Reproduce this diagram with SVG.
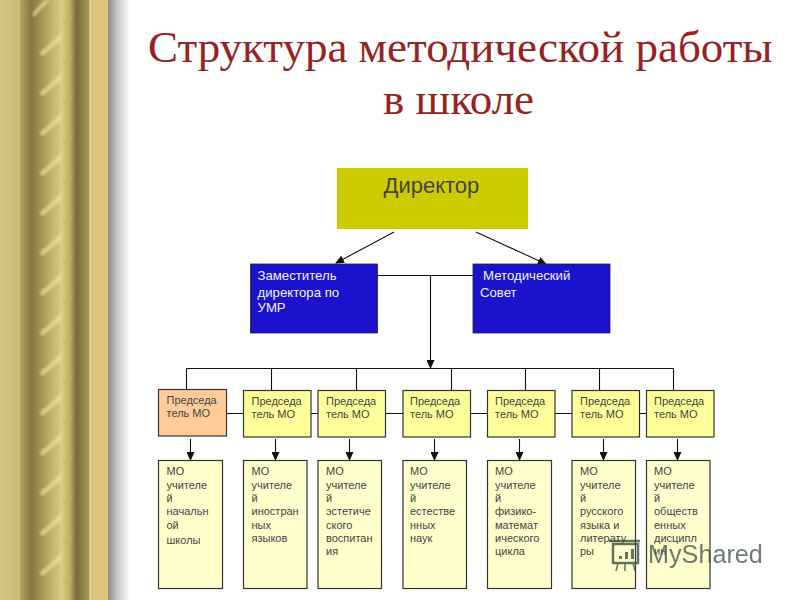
<svg xmlns="http://www.w3.org/2000/svg" width="800" height="600" viewBox="0 0 800 600">
<style>
.t{font-family:"Liberation Sans",Arial,sans-serif;fill:#444}
.s{font-size:11px}
.m{font-size:13.200px;fill:#f4f4ff}
.h{font-family:"Liberation Serif","Times New Roman",serif;font-size:45px;fill:#97221f}
.b{stroke:#333;stroke-width:1.2}
.y{fill:#ffff99}
.o{fill:#ffcc99}
.p{fill:#ffffcc}
.u{fill:#1a12cc;stroke:#223;stroke-width:.8}
.l{stroke:#111;stroke-width:1.1;fill:none}
.hi{fill:#ebdd98;opacity:.7}
.dk{fill:#c2b06c;opacity:.7}
</style>
<defs>
<linearGradient id="col" x1="0" x2="1" y1="0" y2="0">
<stop offset="0" stop-color="#d6c680"/>
<stop offset=".17" stop-color="#cbbb76"/>
<stop offset=".175" stop-color="#e6d890"/>
<stop offset=".185" stop-color="#b5a765"/>
<stop offset=".29" stop-color="#86783f"/>
<stop offset=".42" stop-color="#b0a15e"/>
<stop offset=".57" stop-color="#ddcd82"/>
<stop offset=".64" stop-color="#c0b16c"/>
<stop offset=".71" stop-color="#7a6c3c"/>
<stop offset=".82" stop-color="#a89a5a"/>
<stop offset=".835" stop-color="#e6d890"/>
<stop offset=".85" stop-color="#d8c47c"/>
<stop offset="1" stop-color="#dcc67c"/>
</linearGradient>
<linearGradient id="sh" x1="0" x2="1" y1="0" y2="0">
<stop offset="0" stop-color="#8a8a90"/>
<stop offset=".4" stop-color="#c4c4c8"/>
<stop offset="1" stop-color="#fff"/>
</linearGradient>
<filter id="bl" x="-5%" y="-5%" width="110%" height="110%"><feGaussianBlur stdDeviation=".8"/></filter>
<marker id="a" markerWidth="9" markerHeight="8" refX="8" refY="4" orient="auto" markerUnits="userSpaceOnUse"><path d="M0 0L9 4L0 8Z" fill="#111"/></marker>
<path id="sp" d="M39 53L63 32L61 40L43 56Z"/>
<path id="sd" d="M63 64L73 52L72 58L66 66Z"/>
</defs>
<rect width="800" height="600" fill="#fff"/>
<g id="border">
<rect x="108" width="22" height="600" fill="url(#sh)"/>
<rect width="108" height="600" fill="url(#col)"/>
<g class="hi" filter="url(#bl)">
<path d="M33 18L50 0H45L33 12Z"/>
<use href="#sp"/><use href="#sp" y="40"/><use href="#sp" y="80"/><use href="#sp" y="120"/><use href="#sp" y="160"/><use href="#sp" y="200"/><use href="#sp" y="240"/><use href="#sp" y="280"/><use href="#sp" y="320"/><use href="#sp" y="360"/><use href="#sp" y="400"/><use href="#sp" y="440"/><use href="#sp" y="480"/><use href="#sp" y="520"/>
</g>
<g class="dk" filter="url(#bl)">
<use href="#sd" y="-40"/><use href="#sd"/><use href="#sd" y="40"/><use href="#sd" y="80"/><use href="#sd" y="120"/><use href="#sd" y="160"/><use href="#sd" y="200"/><use href="#sd" y="240"/><use href="#sd" y="280"/><use href="#sd" y="320"/><use href="#sd" y="360"/><use href="#sd" y="400"/><use href="#sd" y="440"/><use href="#sd" y="480"/><use href="#sd" y="520"/>
</g>
</g>
<g id="title">
<text class="h" x="148" y="62">Структура методической работы</text>
<text class="h" x="383" y="114">в школе</text>
</g>
<g id="connectors">
<path class="l" d="M394 232L336 263" marker-end="url(#a)"/>
<path class="l" d="M476 232L546 264" marker-end="url(#a)"/>
<path class="l" d="M377 275.500H473"/>
<path class="l" d="M430.500 275.500V368" marker-end="url(#a)"/>
<path class="l" d="M186.500 368.500H673.500M186.500 368.500V390M271.500 368.500V391M356.500 368.500V391M451.500 368.500V391M525.500 368.500V391M599.500 368.500V391M673.500 368.500V391"/>
<path class="l" d="M222 413.500H243M311 413.500H318M385 413.500H403M470 413.500H487M552 413.500H572M635 413.500H646"/>
<path class="l" d="M190.500 439V460" marker-end="url(#a)"/>
<path class="l" d="M275.500 439V460" marker-end="url(#a)"/>
<path class="l" d="M349.500 439V460" marker-end="url(#a)"/>
<path class="l" d="M434.500 439V460" marker-end="url(#a)"/>
<path class="l" d="M519.500 439V460" marker-end="url(#a)"/>
<path class="l" d="M603.500 439V460" marker-end="url(#a)"/>
<path class="l" d="M677.500 439V460" marker-end="url(#a)"/>
</g>
<g id="director"><rect x="337" y="168" width="191" height="61" fill="#cccc00"/><text class="t" x="383.500" y="193" font-size="22">Директор</text></g>
<g id="deputy"><rect class="u" x="250.500" y="264" width="127" height="69"/><text class="t m" x="257.500" y="280">Заместитель</text><text class="t m" x="257.500" y="296.500">директора по</text><text class="t m" x="257.500" y="312">УМР</text></g>
<g id="council"><rect class="u" x="473" y="264" width="137" height="69"/><text class="t m" x="483" y="280">Методический</text><text class="t m" x="480" y="296.500">Совет</text></g>
<g id="chair1"><rect class="b o" x="158.500" y="389.500" width="68" height="46.500"/><text class="t s" x="166.500" y="404">Председа</text><text class="t s" x="166.500" y="417">тель МО</text></g>
<g id="chair2"><rect class="b y" x="243.500" y="390.500" width="67.500" height="46.500"/><text class="t s" x="251.500" y="405">Председа</text><text class="t s" x="251.500" y="418">тель МО</text></g>
<g id="chair3"><rect class="b y" x="318" y="390.500" width="67.500" height="46.500"/><text class="t s" x="326" y="405">Председа</text><text class="t s" x="326" y="418">тель МО</text></g>
<g id="chair4"><rect class="b y" x="403" y="390.500" width="67.500" height="46.500"/><text class="t s" x="410" y="405">Председа</text><text class="t s" x="410" y="418">тель МО</text></g>
<g id="chair5"><rect class="b y" x="487.500" y="390.500" width="67.500" height="46.500"/><text class="t s" x="495" y="405">Председа</text><text class="t s" x="495" y="418">тель МО</text></g>
<g id="chair6"><rect class="b y" x="572" y="390.500" width="67.500" height="46.500"/><text class="t s" x="580" y="405">Председа</text><text class="t s" x="580" y="418">тель МО</text></g>
<g id="chair7"><rect class="b y" x="646.500" y="390.500" width="67.500" height="46.500"/><text class="t s" x="654" y="405">Председа</text><text class="t s" x="654" y="418">тель МО</text></g>
<g id="mo1"><rect class="b p" x="158.500" y="460.500" width="64" height="128"/><text class="t s"><tspan x="166.500" y="475">МО</tspan><tspan x="166.500" y="488.500">учителе</tspan><tspan x="166.500" y="502">й</tspan><tspan x="166.500" y="515">начальн</tspan><tspan x="166.500" y="529">ой</tspan><tspan x="166.500" y="544">школы</tspan></text></g>
<g id="mo2"><rect class="b p" x="243.500" y="460.500" width="63.500" height="128"/><text class="t s"><tspan x="251.500" y="475">МО</tspan><tspan x="251.500" y="488.500">учителе</tspan><tspan x="251.500" y="502">й</tspan><tspan x="251.500" y="515">иностран</tspan><tspan x="251.500" y="529">ных</tspan><tspan x="251.500" y="542">языков</tspan></text></g>
<g id="mo3"><rect class="b p" x="318" y="460.500" width="63.500" height="128"/><text class="t s"><tspan x="326" y="475">МО</tspan><tspan x="326" y="488.500">учителе</tspan><tspan x="326" y="502">й</tspan><tspan x="326" y="515">эстетиче</tspan><tspan x="326" y="529">ского</tspan><tspan x="326" y="542">воспитан</tspan><tspan x="326" y="555">ия</tspan></text></g>
<g id="mo4"><rect class="b p" x="403" y="460.500" width="63.500" height="128"/><text class="t s"><tspan x="410" y="475">МО</tspan><tspan x="410" y="488.500">учителе</tspan><tspan x="410" y="502">й</tspan><tspan x="410" y="515">естестве</tspan><tspan x="410" y="529">нных</tspan><tspan x="410" y="542">наук</tspan></text></g>
<g id="mo5"><rect class="b p" x="487.500" y="460.500" width="64" height="128"/><text class="t s"><tspan x="495" y="475">МО</tspan><tspan x="495" y="488.500">учителе</tspan><tspan x="495" y="502">й</tspan><tspan x="495" y="515">физико-</tspan><tspan x="495" y="529">математ</tspan><tspan x="495" y="542">ического</tspan><tspan x="495" y="555">цикла</tspan></text></g>
<g id="mo6"><rect class="b p" x="572" y="460.500" width="63.500" height="128"/><text class="t s"><tspan x="580" y="475">МО</tspan><tspan x="580" y="488.500">учителе</tspan><tspan x="580" y="502">й</tspan><tspan x="580" y="515">русского</tspan><tspan x="580" y="529">языка и</tspan><tspan x="580" y="542">литерату</tspan><tspan x="580" y="555">ры</tspan></text></g>
<g id="mo7"><rect class="b p" x="646.500" y="460.500" width="63.500" height="128"/><text class="t s"><tspan x="654" y="475">МО</tspan><tspan x="654" y="488.500">учителе</tspan><tspan x="654" y="502">й</tspan><tspan x="654" y="515">обществ</tspan><tspan x="654" y="529">енных</tspan><tspan x="654" y="542">дисципл</tspan><tspan x="654" y="555">ин</tspan></text></g>
<g id="watermark" opacity=".8">
<rect x="613" y="544" width="25" height="19" fill="none" stroke="#3f5040" stroke-width="2.500"/>
<path d="M609 541H640" stroke="#3f5040" stroke-width="2.500"/>
<path d="M618 563L616 571M625 563V571M633 563L635 571" stroke="#3f5040" stroke-width="1.500"/>
<path d="M619 556h3v3h-3zM625 552h3v7h-3zM631 549h3v10h-3z" fill="#3f5040"/>
<text x="648" y="563" font-family="'Liberation Sans',sans-serif" font-size="25.200" fill="#4a5a58">MyShared</text>
</g>
</svg>
